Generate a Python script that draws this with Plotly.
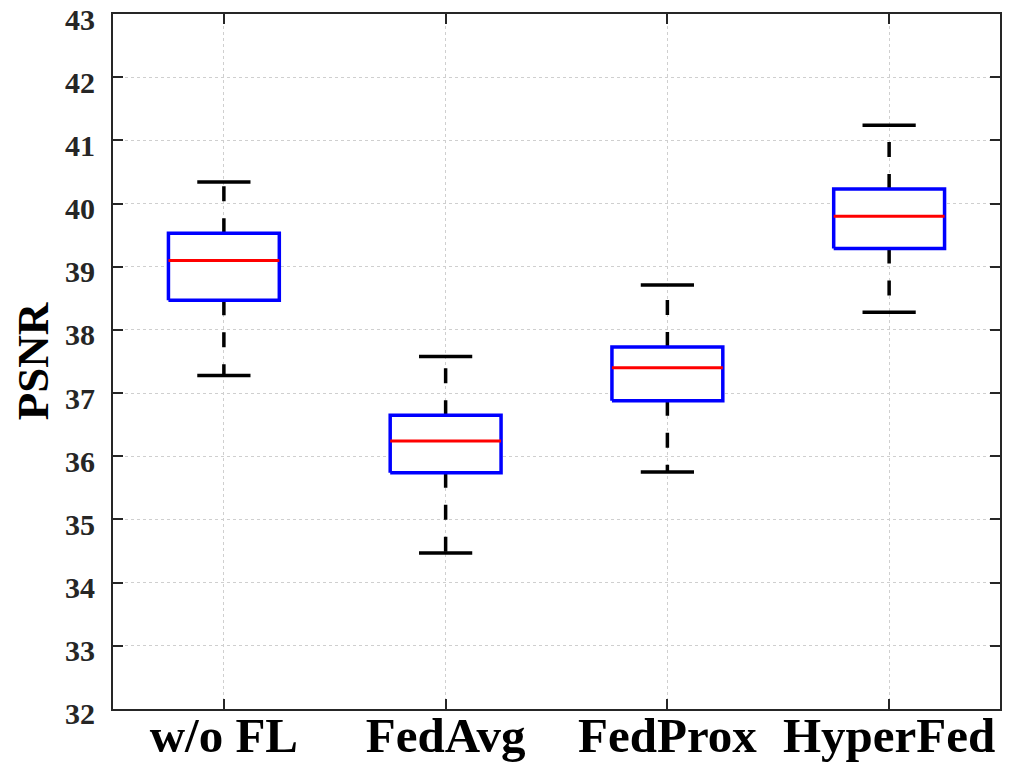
import plotly.graph_objects as go

methods = ["w/o FL", "FedAvg", "FedProx", "HyperFed"]
whisker_low = [37.28, 34.47, 35.75, 38.28]
q1 = [38.47, 35.74, 36.88, 39.29]
median = [39.10, 36.24, 37.40, 39.80]
q3 = [39.53, 36.65, 37.73, 40.23]
whisker_high = [40.34, 37.58, 38.71, 41.24]
y_ticks = list(range(32, 44))

pos = list(range(1, len(methods) + 1))
BOX_HALF = 0.25
CAP_HALF = 0.12
FONT = "Liberation Serif, Times New Roman, serif"
PAGE_PAD = 8  # default <body> margin of the written html page

# segment builders (None separates segments inside one trace)
wx, wy, bx, by, mx, my, cx, cy = [], [], [], [], [], [], [], []
for p, lo, a, m, b, hi in zip(pos, whisker_low, q1, median, q3, whisker_high):
    wx += [p, p, None, p, p, None]
    wy += [b, hi, None, a, lo, None]
    bx += [p - BOX_HALF, p + BOX_HALF, p + BOX_HALF, p - BOX_HALF, p - BOX_HALF, None]
    by += [a, a, b, b, a, None]
    mx += [p - BOX_HALF, p + BOX_HALF, None]
    my += [m, m, None]
    cx += [p - CAP_HALF, p + CAP_HALF, None, p - CAP_HALF, p + CAP_HALF, None]
    cy += [hi, hi, None, lo, lo, None]

fig = go.Figure()
fig.add_trace(go.Scatter(x=wx, y=wy, mode="lines",
                         line=dict(color="black", width=3.5, dash="15px,17px")))
fig.add_trace(go.Scatter(x=bx, y=by, mode="lines", fill="toself", fillcolor="white",
                         line=dict(color="#0000ff", width=3.5)))
fig.add_trace(go.Scatter(x=mx, y=my, mode="lines", line=dict(color="#ff0000", width=3)))
fig.add_trace(go.Scatter(x=cx, y=cy, mode="lines", line=dict(color="black", width=3.5)))

axis_style = dict(
    showline=True, linecolor="#262626", linewidth=2, mirror="ticks",
    ticks="inside", ticklen=10, tickwidth=2, tickcolor="#262626",
    showgrid=True, gridcolor="#cfcfcf", gridwidth=1, griddash="dot",
    zeroline=False, automargin=False, ticklabeloverflow="allow",
)

fig.update_xaxes(
    range=[0.5, 4.5], tickvals=pos, ticktext=methods, ticklabelstandoff=-18,
    tickfont=dict(family=FONT, size=49, color="black", weight="bold"),
    **axis_style,
)
fig.update_yaxes(
    range=[31.999, 43.001], tickvals=y_ticks, ticklabelstandoff=10, ticklabelshift=5,
    tickfont=dict(family=FONT, size=30, color="#262626", weight="bold"),
    title=dict(text="<b>PSNR</b>", standoff=25,
               font=dict(family=FONT, size=45, color="black")),
    **axis_style,
)

fig.update_layout(
    width=1010, height=775,
    margin=dict(l=113 - PAGE_PAD, r=10 + PAGE_PAD, t=14 - PAGE_PAD, b=66 + PAGE_PAD),
    plot_bgcolor="white", paper_bgcolor="white",
    showlegend=False,
    font=dict(family=FONT, color="black"),
)

fig.write_html("out.html")
